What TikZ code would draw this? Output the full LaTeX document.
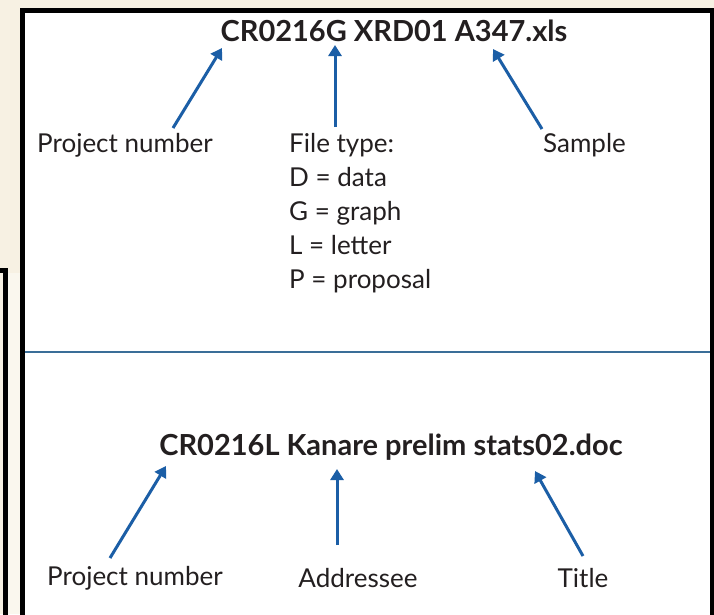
\documentclass[tikz,border=0pt]{standalone}
\usepackage{fontspec}
\setmainfont{Lato}
\usetikzlibrary{arrows.meta}
\definecolor{beige}{HTML}{F7F1E3}
\definecolor{arrowblue}{HTML}{1B5EA6}
\definecolor{divblue}{HTML}{3A6E98}
\definecolor{txt}{HTML}{231F20}
\tikzset{
  ptr/.style={draw=arrowblue, line width=3pt, -{Triangle[length=11pt,width=13pt]}},
  lbl/.style={inner sep=0pt, text=txt, font=\fontsize{26}{34}\selectfont},
  ttl/.style={inner sep=0pt, text=txt, font=\fontsize{29}{34}\selectfont\bfseries},
  frame/.style={draw=black, line width=5pt}
}
\begin{document}
\begin{tikzpicture}[x=1pt,y=-1pt]
\useasboundingbox (0,0) rectangle (714,614);
\clip (0,0) rectangle (714,614);
% backgrounds
\fill[beige] (0,0) rectangle (714,614);
\fill[beige!60!white] (8,273) rectangle (20,614);
\fill[white] (22.5,10.5) rectangle (712.5,630);
% frames
\draw[frame] (22.5,10.5) rectangle (712.5,630);
\draw[frame] (-20,270.5) -- (5.5,270.5) -- (5.5,630);
% divider
\draw[divblue, line width=2.6pt] (25,352) -- (710,352);

% top example
\node[ttl] (t1) at (394,31) {CR0216G XRD01 A347.xls};
\node[lbl, anchor=west] (pn1) at (37,145) {Project number};
\node[lbl, anchor=north west, align=left] (ft) at (289,133) {File type:\\D = data\\G = graph\\L = letter\\P = proposal};
\node[lbl, anchor=west] (smp) at (543,145) {Sample};
\coordinate (a1s) at (173,128); \coordinate (a1e) at (222,48);
\coordinate (a2s) at (335,127); \coordinate (a2e) at (335,45);
\coordinate (a3s) at (542,129); \coordinate (a3e) at (493,49);
\draw[ptr] (a1s) -- (a1e);
\draw[ptr] (a2s) -- (a2e);
\draw[ptr] (a3s) -- (a3e);

% bottom example
\node[ttl] (t2) at (391,447) {CR0216L Kanare prelim stats02.doc};
\node[lbl, anchor=west] (pn2) at (47,578) {Project number};
\node[lbl] (adr) at (358,578) {Addressee};
\node[lbl] (tit) at (583,578) {Title};
\coordinate (a4s) at (110,558); \coordinate (a4e) at (166,466);
\coordinate (a5s) at (337,545); \coordinate (a5e) at (337,469);
\coordinate (a6s) at (583,556); \coordinate (a6e) at (535,471);
\draw[ptr] (a4s) -- (a4e);
\draw[ptr] (a5s) -- (a5e);
\draw[ptr] (a6s) -- (a6e);
\end{tikzpicture}
\end{document}
